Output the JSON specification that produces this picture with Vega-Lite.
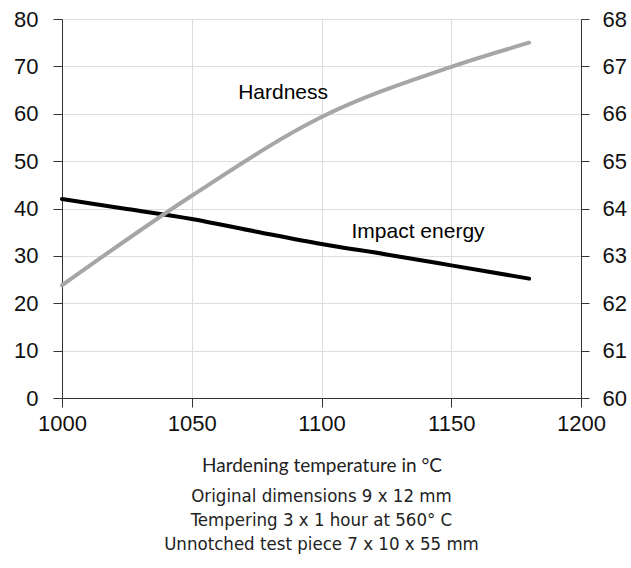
{
  "$schema": "https://vega.github.io/schema/vega-lite/v6.json",
  "autosize": {"type": "none"},
  "width": 519,
  "height": 379,
  "padding": {"left": 62, "top": 19, "right": 50, "bottom": 170},
  "background": "white",
  "datasets": {
    "impact": [
      {"temp": 1000, "energy": 42.0},
      {"temp": 1025, "energy": 39.9},
      {"temp": 1050, "energy": 37.8},
      {"temp": 1075, "energy": 35.1},
      {"temp": 1100, "energy": 32.5},
      {"temp": 1125, "energy": 30.3},
      {"temp": 1150, "energy": 28.0},
      {"temp": 1180, "energy": 25.2}
    ],
    "hardness": [
      {"temp": 1000, "hrc": 62.38},
      {"temp": 1050, "hrc": 64.27},
      {"temp": 1100, "hrc": 65.93},
      {"temp": 1150, "hrc": 66.99},
      {"temp": 1180, "hrc": 67.5}
    ],
    "labels": [
      {"temp": 1085.2, "energy": 64.4, "label": "Hardness"},
      {"temp": 1137.2, "energy": 35.0, "label": "Impact energy"}
    ]
  },
  "title": {
    "text": ["Original dimensions 9 x 12 mm", "Tempering 3 x 1 hour at 560° C", "Unnotched test piece 7 x 10 x 55 mm"],
    "orient": "bottom",
    "anchor": "middle",
    "font": "DejaVu Sans Condensed",
    "fontSize": 18.5,
    "fontWeight": "normal",
    "lineHeight": 24,
    "color": "#222",
    "offset": 12
  },
  "config": {
    "view": {"stroke": null},
    "axis": {
      "labelFont": "Liberation Sans",
      "labelFontSize": 22,
      "labelColor": "#111",
      "domainColor": "#333",
      "tickColor": "#333",
      "gridColor": "#dddddd",
      "gridWidth": 1
    }
  },
  "layer": [
    {
      "layer": [
        {
          "data": {"name": "impact"},
          "mark": {"type": "line", "color": "#000000", "strokeWidth": 4, "interpolate": "monotone", "strokeCap": "round"},
          "encoding": {
            "x": {
              "field": "temp", "type": "quantitative",
              "scale": {"domain": [1000, 1200], "nice": false, "zero": false},
              "axis": {
                "values": [1000, 1050, 1100, 1150, 1200],
                "format": "d",
                "title": "Hardening temperature in °C",
                "titleFont": "Lato",
                "titleFontWeight": "normal",
                "titleFontSize": 19,
                "titleColor": "#222",
                "titlePadding": 22,
                "tickSize": 9,
                "labelPadding": 6,
                "grid": true,
                "labelFlush": false
              }
            },
            "y": {
              "field": "energy", "type": "quantitative",
              "scale": {"domain": [0, 80], "nice": false},
              "axis": {
                "values": [0, 10, 20, 30, 40, 50, 60, 70, 80],
                "title": null,
                "orient": "left",
                "tickSize": 9,
                "labelPadding": 15,
                "grid": true
              }
            }
          }
        },
        {
          "data": {"name": "labels"},
          "mark": {"type": "text", "font": "Liberation Sans", "fontSize": 21, "color": "#000"},
          "encoding": {
            "x": {"field": "temp", "type": "quantitative"},
            "y": {"field": "energy", "type": "quantitative"},
            "text": {"field": "label"}
          }
        }
      ]
    },
    {
      "data": {"name": "hardness"},
      "mark": {"type": "line", "color": "#a6a6a6", "strokeWidth": 4, "interpolate": "monotone", "strokeCap": "round"},
      "encoding": {
        "x": {"field": "temp", "type": "quantitative"},
        "y": {
          "field": "hrc", "type": "quantitative",
          "scale": {"domain": [60, 68], "nice": false, "zero": false},
          "axis": {
            "values": [60, 61, 62, 63, 64, 65, 66, 67, 68],
            "title": null,
            "orient": "right",
            "tickSize": 8,
            "labelPadding": 13,
            "grid": false
          }
        }
      }
    }
  ],
  "resolve": {"scale": {"y": "independent"}}
}
